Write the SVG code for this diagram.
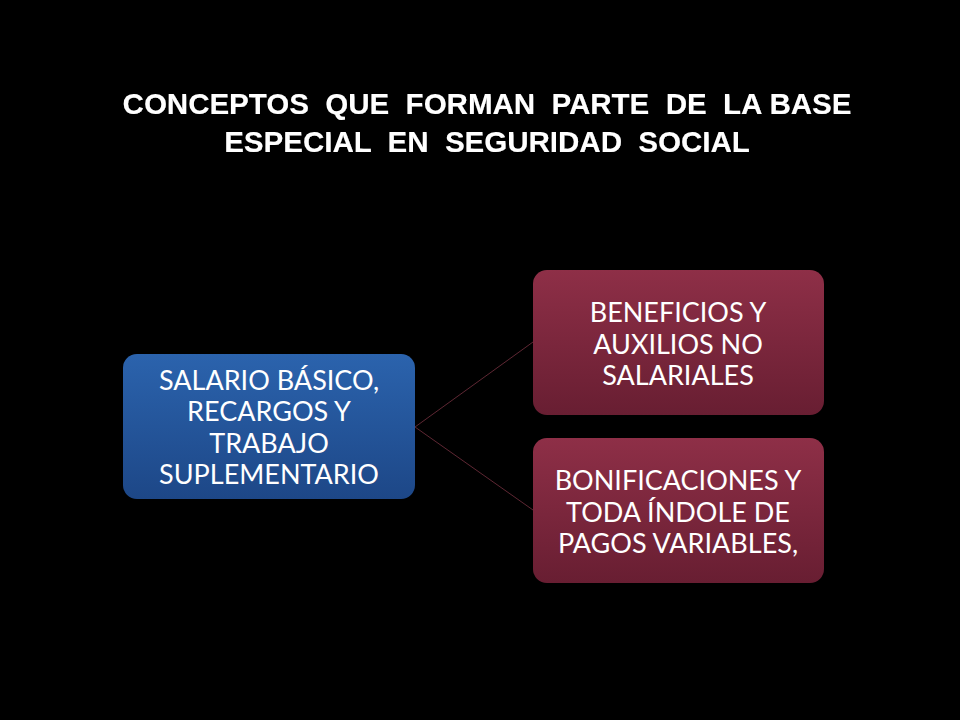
<svg xmlns="http://www.w3.org/2000/svg" width="960" height="720" viewBox="0 0 960 720">
<defs>
<linearGradient id="gBlue" x1="0" y1="0" x2="0" y2="1">
<stop offset="0" stop-color="#2b63ad"/>
<stop offset="1" stop-color="#1d4787"/>
</linearGradient>
<linearGradient id="gRed" x1="0" y1="0" x2="0" y2="1">
<stop offset="0" stop-color="#8e2f47"/>
<stop offset="1" stop-color="#681e32"/>
</linearGradient>
<filter id="sh" x="-5%" y="-20%" width="110%" height="140%">
<feDropShadow dx="2" dy="2" stdDeviation="1" flood-color="#000" flood-opacity="1"/>
</filter>
</defs>
<style>
.title{font-family:"Liberation Sans",Arial,sans-serif;font-weight:bold;font-size:29.5px;fill:#fff;text-anchor:middle;white-space:pre;}
.node{font-family:Lato,"Open Sans",sans-serif;font-size:27px;fill:#fff;text-anchor:middle;}
.conn{stroke:#5e2733;stroke-width:1;fill:none;}
</style>
<rect width="960" height="720" fill="#000"/>
<g id="title" filter="url(#sh)">
<text class="title" x="487" y="114" xml:space="preserve">CONCEPTOS  QUE  FORMAN  PARTE  DE  LA BASE</text>
<text class="title" x="487" y="152" xml:space="preserve">ESPECIAL  EN  SEGURIDAD  SOCIAL</text>
</g>
<g id="connectors">
<line class="conn" x1="415" y1="427" x2="533" y2="342"/>
<line class="conn" x1="415" y1="427" x2="533" y2="510"/>
</g>
<g id="node-salario">
<rect x="123" y="354" width="292" height="145" rx="14" fill="url(#gBlue)"/>
<text class="node" x="269" y="390">SALARIO BÁSICO,</text>
<text class="node" x="269" y="421">RECARGOS Y</text>
<text class="node" x="269" y="453">TRABAJO</text>
<text class="node" x="269" y="484">SUPLEMENTARIO</text>
</g>
<g id="node-beneficios">
<rect x="533" y="270" width="291" height="145" rx="14" fill="url(#gRed)"/>
<text class="node" x="678" y="322">BENEFICIOS Y</text>
<text class="node" x="678" y="354">AUXILIOS NO</text>
<text class="node" x="678" y="385">SALARIALES</text>
</g>
<g id="node-bonificaciones">
<rect x="533" y="438" width="291" height="145" rx="14" fill="url(#gRed)"/>
<text class="node" x="678" y="490">BONIFICACIONES Y</text>
<text class="node" x="678" y="522">TODA ÍNDOLE DE</text>
<text class="node" x="678" y="553">PAGOS VARIABLES,</text>
</g>
</svg>
